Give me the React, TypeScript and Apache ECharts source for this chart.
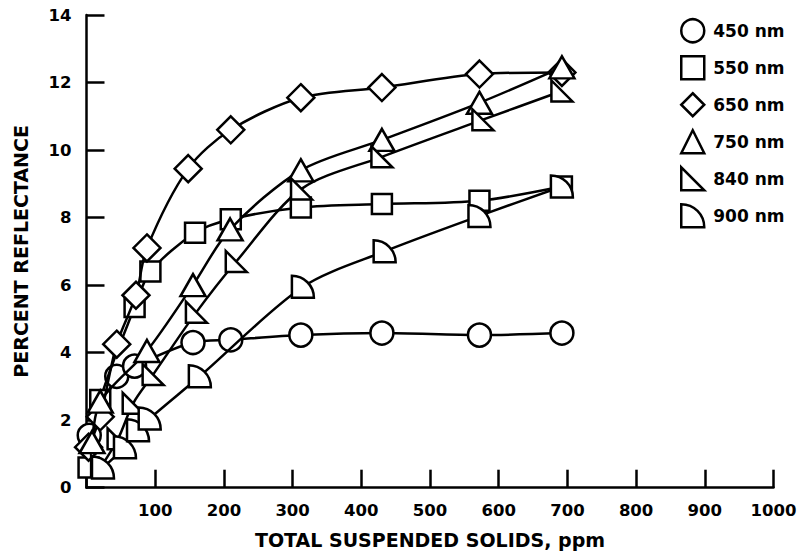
import React, { useEffect, useRef } from "react";
import * as echarts from "echarts";

// TSS (ppm) vs percent reflectance, one list per wavelength
const nm450: number[][] = [[4, 1.55], [44, 3.3], [70, 3.6], [155, 4.3], [210, 4.38], [312, 4.52], [430, 4.58], [572, 4.52], [692, 4.58]];
const nm550: number[][] = [[3, 0.6], [20, 2.6], [70, 5.35], [93, 6.4], [158, 7.55], [210, 7.95], [312, 8.3], [430, 8.4], [572, 8.5], [692, 8.92]];
const nm650: number[][] = [[3, 1.2], [20, 2.1], [44, 4.25], [72, 5.7], [88, 7.1], [148, 9.45], [210, 10.6], [312, 11.55], [430, 11.85], [572, 12.25], [692, 12.3]];
const nm750: number[][] = [[8, 1.35], [20, 2.55], [88, 4.05], [155, 6.0], [209, 7.65], [312, 9.4], [430, 10.3], [572, 11.4], [692, 12.45]];
const nm840: number[][] = [[22, 0.65], [46, 1.45], [68, 2.5], [97, 3.35], [160, 5.2], [218, 6.7], [313, 8.85], [430, 9.8], [577, 10.9], [692, 11.75]];
const nm900: number[][] = [[24, 0.6], [56, 1.2], [75, 1.7], [92, 2.05], [165, 3.3], [315, 5.95], [434, 7.0], [572, 8.05], [692, 8.92]];

const seriesNames = ["450 nm", "550 nm", "650 nm", "750 nm", "840 nm", "900 nm"];
const xAxisTitle = "TOTAL SUSPENDED SOLIDS, ppm";
const yAxisTitle = "PERCENT REFLECTANCE";

const RIGHT_TRI = "path://M0,0 L0,10 L10,10 Z";
const QUARTER = "path://M0,0 L0,10 L10,10 A10,10 0 0 0 0,0 Z";

const FONT = "DejaVu Sans";

export default function App() {
  const ref = useRef<HTMLDivElement>(null);
  useEffect(() => {
    if (!ref.current) return;
    const chart = echarts.init(ref.current, null, { renderer: "svg" });
    const datasets = [nm450, nm550, nm650, nm750, nm840, nm900];
    const symbols = ["circle", "rect", "diamond", "triangle", RIGHT_TRI, QUARTER];
    const sizes: any[] = [23, 20, [27, 27], [25, 22], [21, 21], [22, 22]];
    const legendIcons = ["circle", "rect", "diamond", "triangle", RIGHT_TRI, QUARTER];
    const series = datasets.map((d, i) => ({
      name: seriesNames[i],
      type: "line",
      data: d,
      smooth: 0.3,
      symbol: symbols[i],
      symbolSize: sizes[i],
      showAllSymbol: true,
      lineStyle: { color: "#000", width: 2.5 },
      itemStyle: { color: "#fff", borderColor: "#000", borderWidth: 2.5 },
      z: 2 + i,
    }));
    chart.setOption({
      animation: false,
      backgroundColor: "#fff",
      grid: { left: 86.5, right: 28.5, top: 15, bottom: 68.3, containLabel: false },
      legend: {
        orient: "vertical",
        left: 675,
        top: 13,
        itemWidth: 23,
        itemHeight: 23,
        itemGap: 11.5,
        data: seriesNames.map((n, i) => ({ name: n, icon: legendIcons[i] })),
        itemStyle: { color: "#fff", borderColor: "#000", borderWidth: 2.5 },
        textStyle: { fontFamily: FONT, fontWeight: "bold", fontSize: 17, color: "#000", padding: [0, 0, 0, 4] },
        selectedMode: false,
      },
      xAxis: {
        type: "value",
        min: 0,
        max: 1000,
        interval: 100,
        name: xAxisTitle,
        nameLocation: "middle",
        nameGap: 43,
        nameTextStyle: { fontFamily: FONT, fontWeight: "bold", fontSize: 19, color: "#000" },
        axisLine: { show: true, lineStyle: { color: "#000", width: 2.5 } },
        axisTick: { show: true, inside: true, length: 18, lineStyle: { color: "#000", width: 2.5 } },
        splitLine: { show: false },
        axisLabel: {
          margin: 14,
          fontFamily: FONT,
          fontWeight: "bold",
          fontSize: 16.5,
          color: "#000",
          formatter: (v: number) => (v === 0 ? "" : String(v)),
        },
      },
      yAxis: {
        type: "value",
        min: 0,
        max: 14,
        interval: 2,
        name: yAxisTitle,
        nameLocation: "middle",
        nameGap: 56,
        nameTextStyle: { fontFamily: FONT, fontWeight: "bold", fontSize: 19, color: "#000" },
        axisLine: { show: true, lineStyle: { color: "#000", width: 2.5 } },
        axisTick: { show: true, inside: true, length: 18, lineStyle: { color: "#000", width: 2.5 } },
        splitLine: { show: false },
        axisLabel: { margin: 15, fontFamily: FONT, fontWeight: "bold", fontSize: 16.5, color: "#000" },
      },
      series,
    });
    return () => chart.dispose();
  }, []);
  return <div ref={ref} style={{ position: "fixed", left: 0, top: 0, width: 802, height: 556 }} />;
}
